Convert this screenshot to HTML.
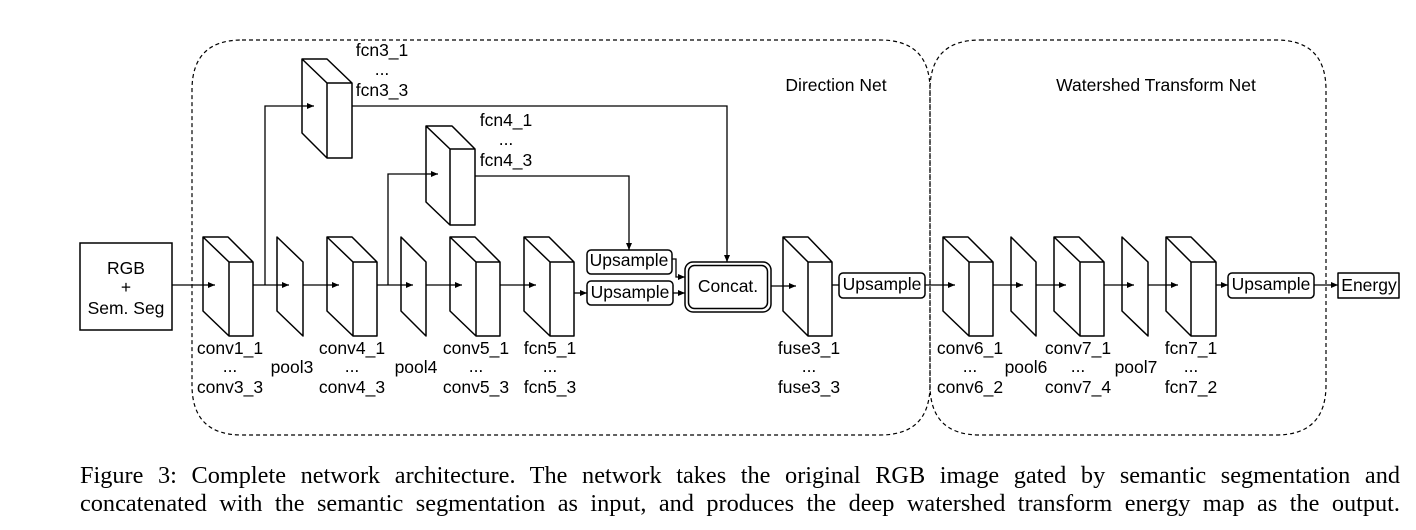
<!DOCTYPE html>
<html><head><style>
body{margin:0;background:#fff;width:1416px;height:530px;overflow:hidden}
svg text{font-family:"Liberation Sans",sans-serif;font-size:17.5px;fill:#000}
.cap{position:absolute;left:80px;width:1320px;font-family:"Liberation Serif",serif;font-size:24.3px;text-align:justify;text-align-last:justify;line-height:28px;white-space:nowrap}
</style></head><body>
<svg width="1416" height="530" style="position:absolute;left:0;top:0">
<defs><marker id="a" markerWidth="8" markerHeight="8" refX="7" refY="4" orient="auto" markerUnits="userSpaceOnUse"><path d="M0,1 L7,4 L0,7 Z" fill="#000"/></marker></defs>
<g fill="none" stroke="#000" stroke-width="1.2" stroke-dasharray="4,3">
<path d="M242,40 H880 Q930,40 930,90 V385 Q930,435 880,435 H242 Q192,435 192,385 V90 Q192,40 242,40 Z"/>
<path d="M980,40 H1276 Q1326,40 1326,90 V385 Q1326,435 1276,435 H980 Q930,435 930,385 V90 Q930,40 980,40 Z"/>
</g>
<g fill="#fff" stroke="#000" stroke-width="1.5">
<rect x="80" y="243" width="92" height="87"/>
</g>
<g stroke="#000" stroke-width="1.3" fill="none">
<line x1="172" y1="285" x2="215" y2="285" marker-end="url(#a)"/>
<line x1="253" y1="285" x2="289" y2="285" marker-end="url(#a)"/>
<line x1="303" y1="285" x2="339" y2="285" marker-end="url(#a)"/>
<line x1="377" y1="285" x2="413" y2="285" marker-end="url(#a)"/>
<line x1="426" y1="285" x2="462" y2="285" marker-end="url(#a)"/>
<line x1="500" y1="285" x2="536" y2="285" marker-end="url(#a)"/>
<line x1="574" y1="293" x2="587" y2="293" marker-end="url(#a)"/>
<line x1="771" y1="286" x2="796" y2="286" marker-end="url(#a)"/>
<line x1="832" y1="285" x2="839" y2="285"/>
<line x1="925" y1="285" x2="955" y2="285" marker-end="url(#a)"/>
<line x1="993" y1="285" x2="1023" y2="285" marker-end="url(#a)"/>
<line x1="1036" y1="285" x2="1066" y2="285" marker-end="url(#a)"/>
<line x1="1104" y1="285" x2="1134" y2="285" marker-end="url(#a)"/>
<line x1="1148" y1="285" x2="1178" y2="285" marker-end="url(#a)"/>
<line x1="1216" y1="285" x2="1228" y2="285" marker-end="url(#a)"/>
<line x1="1314" y1="285" x2="1338" y2="285" marker-end="url(#a)"/>
<polyline points="265,285 265,106 314,106" marker-end="url(#a)"/>
<polyline points="352,106 727,106 727,262" marker-end="url(#a)"/>
<polyline points="388,285 388,174 438,174" marker-end="url(#a)"/>
<polyline points="475,176 629,176 629,250" marker-end="url(#a)"/>
<polyline points="672,259 676,259 676,277 685,277" marker-end="url(#a)"/>
<line x1="673" y1="293" x2="685" y2="293" marker-end="url(#a)"/>
</g>
<g fill="#fff" stroke="#000" stroke-width="1.5" stroke-linejoin="round">
<rect x="587" y="250" width="85" height="24" rx="4"/>
<rect x="587" y="281" width="86" height="24" rx="4"/>
<rect x="685" y="262" width="86" height="50" rx="8"/>
<rect x="688.5" y="265.5" width="79" height="43" rx="6"/>
<rect x="839" y="273" width="86" height="25" rx="4"/>
<rect x="1228" y="273" width="86" height="25" rx="4"/>
<rect x="1338" y="273" width="61" height="25"/>
</g>
<g fill="#fff" stroke="#000" stroke-width="1.5" stroke-linejoin="round">
<path d="M203,237 L228,237 L253,262 L253,336 L229,336 L203,311 Z M203,237 L229,262 L253,262 M229,262 L229,336"/>
<path d="M327,237 L352,237 L377,262 L377,336 L353,336 L327,311 Z M327,237 L353,262 L377,262 M353,262 L353,336"/>
<path d="M450,237 L475,237 L500,262 L500,336 L476,336 L450,311 Z M450,237 L476,262 L500,262 M476,262 L476,336"/>
<path d="M524,237 L549,237 L574,262 L574,336 L550,336 L524,311 Z M524,237 L550,262 L574,262 M550,262 L550,336"/>
<path d="M783,237 L808,237 L832,262 L832,336 L808,336 L783,311 Z M783,237 L808,262 L832,262 M808,262 L808,336"/>
<path d="M943,237 L968,237 L993,262 L993,336 L969,336 L943,311 Z M943,237 L969,262 L993,262 M969,262 L969,336"/>
<path d="M1054,237 L1079,237 L1104,262 L1104,336 L1080,336 L1054,311 Z M1054,237 L1080,262 L1104,262 M1080,262 L1080,336"/>
<path d="M1166,237 L1191,237 L1216,262 L1216,336 L1191,336 L1166,311 Z M1166,237 L1191,262 L1216,262 M1191,262 L1191,336"/>
<path d="M302,59 L327,59 L352,83 L352,158 L327,158 L302,133 Z M302,59 L327,83 L352,83 M327,83 L327,158"/>
<path d="M426,126 L452,126 L475,149 L475,225 L450,225 L426,202 Z M426,126 L450,149 L475,149 M450,149 L450,225"/>
<path d="M277,237 L303,262 L303,336 L277,311 Z"/>
<path d="M401,237 L426,262 L426,336 L401,311 Z"/>
<path d="M1011,237 L1036,262 L1036,336 L1011,311 Z"/>
<path d="M1122,237 L1148,262 L1148,336 L1122,311 Z"/>
</g>
<g stroke="#000" stroke-width="1.3" fill="none">
<line x1="203" y1="285" x2="215" y2="285" marker-end="url(#a)"/>
<line x1="277" y1="285" x2="289" y2="285" marker-end="url(#a)"/>
<line x1="327" y1="285" x2="339" y2="285" marker-end="url(#a)"/>
<line x1="401" y1="285" x2="413" y2="285" marker-end="url(#a)"/>
<line x1="450" y1="285" x2="462" y2="285" marker-end="url(#a)"/>
<line x1="524" y1="285" x2="536" y2="285" marker-end="url(#a)"/>
<line x1="783" y1="286" x2="796" y2="286" marker-end="url(#a)"/>
<line x1="943" y1="285" x2="955" y2="285" marker-end="url(#a)"/>
<line x1="1011" y1="285" x2="1023" y2="285" marker-end="url(#a)"/>
<line x1="1054" y1="285" x2="1066" y2="285" marker-end="url(#a)"/>
<line x1="1122" y1="285" x2="1134" y2="285" marker-end="url(#a)"/>
<line x1="1166" y1="285" x2="1178" y2="285" marker-end="url(#a)"/>
<line x1="302" y1="106" x2="314" y2="106" marker-end="url(#a)"/>
<line x1="426" y1="174" x2="438" y2="174" marker-end="url(#a)"/>
</g>
<g text-anchor="middle">
<text x="126" y="274">RGB</text><text x="126" y="293">+</text><text x="126" y="314">Sem. Seg</text>
<text x="629" y="266">Upsample</text><text x="630" y="298">Upsample</text>
<text x="728" y="292">Concat.</text>
<text x="882" y="290">Upsample</text><text x="1271" y="290">Upsample</text>
<text x="1369" y="291">Energy</text>
<text x="382" y="56">fcn3_1</text><text x="382" y="75">...</text><text x="382" y="96">fcn3_3</text>
<text x="506" y="126">fcn4_1</text><text x="506" y="145">...</text><text x="506" y="166">fcn4_3</text>
<text x="230" y="354">conv1_1</text><text x="230" y="372">...</text><text x="230" y="393">conv3_3</text>
<text x="292" y="373">pool3</text>
<text x="352" y="354">conv4_1</text><text x="352" y="372">...</text><text x="352" y="393">conv4_3</text>
<text x="416" y="373">pool4</text>
<text x="476" y="354">conv5_1</text><text x="476" y="372">...</text><text x="476" y="393">conv5_3</text>
<text x="550" y="354">fcn5_1</text><text x="550" y="372">...</text><text x="550" y="393">fcn5_3</text>
<text x="809" y="354">fuse3_1</text><text x="809" y="372">...</text><text x="809" y="393">fuse3_3</text>
<text x="970" y="354">conv6_1</text><text x="970" y="372">...</text><text x="970" y="393">conv6_2</text>
<text x="1026" y="373">pool6</text>
<text x="1078" y="354">conv7_1</text><text x="1078" y="372">...</text><text x="1078" y="393">conv7_4</text>
<text x="1136" y="373">pool7</text>
<text x="1191" y="354">fcn7_1</text><text x="1191" y="372">...</text><text x="1191" y="393">fcn7_2</text>
<text x="836" y="91" font-size="18.5">Direction Net</text>
<text x="1156" y="91" font-size="18.5">Watershed Transform Net</text>
</g>
</svg>
<div class="cap" style="top:462px">Figure 3: Complete network architecture. The network takes the original RGB image gated by semantic segmentation and</div>
<div class="cap" style="top:490px">concatenated with the semantic segmentation as input, and produces the deep watershed transform energy map as the output.</div>
</body></html>
